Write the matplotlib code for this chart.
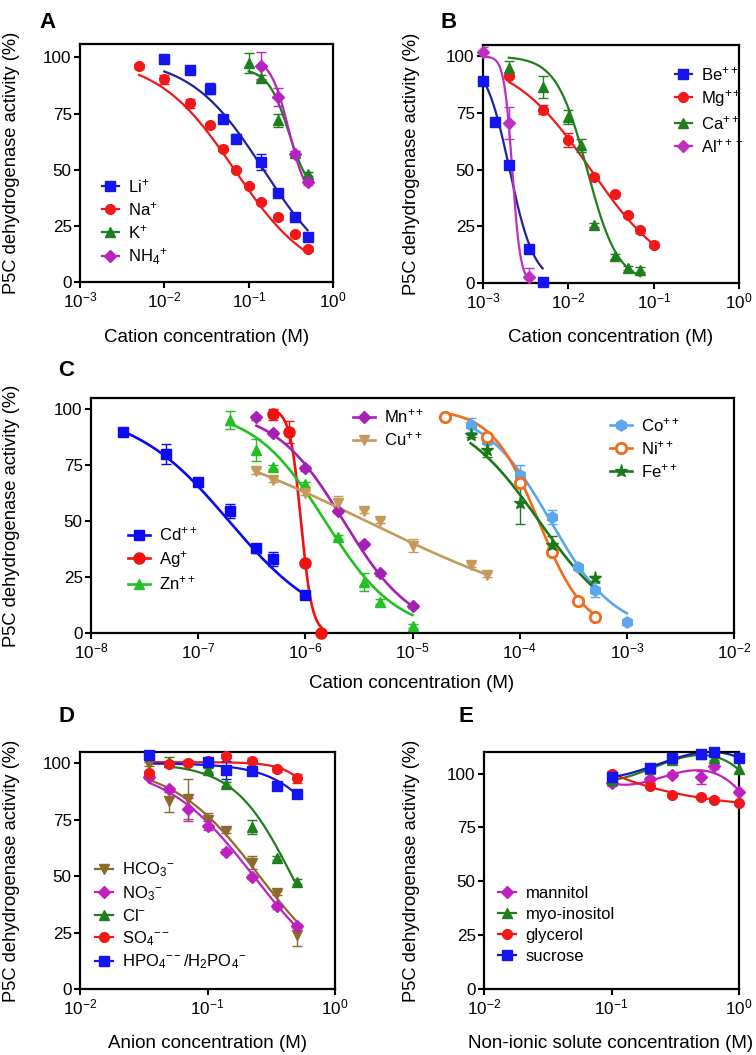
import numpy as np
import matplotlib
matplotlib.use('Agg')
import matplotlib.pyplot as plt
from matplotlib.lines import Line2D
from matplotlib.ticker import NullLocator, FixedLocator

plt.rcParams['font.family'] = ['Liberation Sans', 'DejaVu Sans']
plt.rcParams['mathtext.fontset'] = 'custom'
plt.rcParams['mathtext.rm'] = 'Liberation Sans'
plt.rcParams['mathtext.it'] = 'Liberation Sans:italic'
plt.rcParams['mathtext.bf'] = 'Liberation Sans:bold'

# ---------------- data ----------------
# Panel A: monovalent cations (M)
li_x = [0.01, 0.02, 0.035, 0.05, 0.07, 0.14, 0.225, 0.35, 0.5]
li_y = [99.2, 94.5, 86.1, 72.7, 63.9, 53.5, 39.7, 29.0, 19.9]
li_err = [1, 1, 2.5, 1, 2, 3.5, 1, 1, 1]
na_x = [0.005, 0.01, 0.02, 0.035, 0.05, 0.07, 0.1, 0.14, 0.225, 0.35, 0.5]
na_y = [96.0, 90.4, 79.7, 69.8, 59.4, 49.8, 42.7, 35.7, 28.8, 21.3, 14.8]
na_err = [1, 2, 2, 1, 1, 1, 1, 1, 1, 1, 1]
k_x = [0.1, 0.14, 0.225, 0.35, 0.5]
k_y = [97.5, 91.0, 72.0, 57.5, 48.0]
k_err = [4.5, 1, 3, 1, 1]
nh4_x = [0.14, 0.225, 0.35, 0.5]
nh4_y = [96.3, 82.4, 57.2, 44.4]
nh4_err = [6, 4, 1, 1]

# Panel B: di/trivalent cations
be_x = [0.001, 0.0014, 0.002, 0.0035, 0.005]
be_y = [89.0, 71.0, 52.0, 15.0, 0.5]
be_err = [1, 1, 1, 1, 1]
mg_x = [0.002, 0.005, 0.01, 0.02, 0.035, 0.05, 0.07, 0.1]
mg_y = [91.5, 76.5, 63.2, 46.9, 39.3, 30.1, 23.2, 16.9]
mg_err = [1, 2, 3, 1, 1, 1, 1, 1]
ca_x = [0.002, 0.005, 0.01, 0.014, 0.02, 0.035, 0.05, 0.07]
ca_y = [94.9, 86.5, 73.2, 60.7, 25.6, 11.8, 6.6, 5.9]
ca_err = [3, 5, 3, 3, 1, 1, 1, 1]
al_x = [0.001, 0.002, 0.0035]
al_y = [101.9, 70.6, 2.6]
al_err = [2, 7, 4]

# Panel C: heavy metal cations
cd_x = [2e-8, 5e-8, 1e-7, 2e-7, 3.5e-7, 5e-7, 1e-6]
cd_y = [90.0, 80.1, 67.6, 54.6, 37.8, 33.0, 16.8]
cd_err = [1, 4.5, 1, 3, 2, 3, 1]
ag_x = [5e-7, 7e-7, 1e-6, 1.4e-6]
ag_y = [97.8, 89.7, 31.5, 0.0]
ag_err = [2.5, 5, 1, 1]
zn_x = [2e-7, 3.5e-7, 5e-7, 1e-6, 2e-6, 3.5e-6, 5e-6, 1e-5]
zn_y = [95.2, 81.8, 74.1, 66.4, 43.0, 22.9, 14.0, 3.1]
zn_err = [4, 5, 1, 1, 1, 4, 1, 1]
mn_x = [3.5e-7, 5e-7, 1e-6, 2e-6, 3.5e-6, 5e-6, 1e-5]
mn_y = [96.3, 89.3, 73.6, 54.5, 39.7, 26.6, 12.1]
mn_err = [1, 1, 1, 1, 1, 1, 1]
cu_x = [3.5e-7, 5e-7, 1e-6, 2e-6, 3.5e-6, 5e-6, 1e-5, 3.5e-5, 5e-5]
cu_y = [72.2, 68.5, 62.5, 58.3, 54.5, 50.1, 39.0, 30.4, 25.9]
cu_err = [1, 1, 1, 3, 1, 1, 3, 1, 1]
co_x = [3.5e-5, 5e-5, 1e-4, 2e-4, 3.5e-4, 5e-4, 1e-3]
co_y = [92.9, 86.0, 70.5, 51.9, 29.6, 19.2, 5.0]
co_err = [3, 1, 4.5, 3, 1, 3, 1]
ni_x = [2e-5, 5e-5, 1e-4, 2e-4, 3.5e-4, 5e-4]
ni_y = [96.3, 87.6, 66.8, 36.3, 14.4, 7.3]
ni_err = [1, 1, 1, 2, 1, 1]
fe_x = [3.5e-5, 5e-5, 1e-4, 2e-4, 5e-4]
fe_y = [88.4, 81.7, 57.9, 39.3, 24.4]
fe_err = [1, 3, 9, 4, 1]

# Panel D: anions
hco3_x = [0.035, 0.05, 0.07, 0.1, 0.14, 0.225, 0.35, 0.5]
hco3_y = [99.7, 83.5, 84.1, 74.9, 70.1, 56.0, 42.5, 24.0]
hco3_err = [1, 5, 9, 3, 1, 3, 1, 5]
no3_x = [0.035, 0.05, 0.07, 0.1, 0.14, 0.225, 0.35, 0.5]
no3_y = [94.0, 88.5, 79.6, 72.3, 60.9, 49.6, 36.6, 28.0]
no3_err = [1, 1, 5, 2, 1, 1, 1, 1]
cl_x = [0.05, 0.1, 0.14, 0.225, 0.35, 0.5]
cl_y = [100.7, 97.1, 90.9, 71.7, 58.0, 47.6]
cl_err = [2, 1, 1, 3, 1, 1]
so4_x = [0.035, 0.05, 0.07, 0.1, 0.14, 0.225, 0.35, 0.5]
so4_y = [95.6, 99.6, 100.3, 101.2, 103.2, 101.2, 97.3, 93.4]
so4_err = [1, 1, 1, 1, 1, 1, 1, 2]
hpo4_x = [0.035, 0.1, 0.14, 0.225, 0.35, 0.5]
hpo4_y = [103.7, 100.7, 97.1, 96.6, 90.1, 86.3]
hpo4_err = [1, 1, 4, 1, 1, 1]

# Panel E: non-ionic solutes
solute_x = [0.1, 0.2, 0.3, 0.5, 0.64, 1.0]
mannitol_y = [95.4, 97.5, 99.5, 98.3, 103.7, 91.3]
mannitol_err = [1, 1, 1, 3, 1.5, 1]
myo_y = [97.0, 102.0, 106.2, 109.1, 107.3, 101.9]
myo_err = [1, 1, 1, 1, 1, 1]
glycerol_y = [100.0, 94.4, 90.2, 89.2, 87.9, 86.4]
glycerol_err = [1, 1, 1, 1, 1, 1]
sucrose_y = [98.5, 102.6, 107.3, 109.3, 110.1, 107.3]
sucrose_err = [1, 1, 1, 1, 1, 1]

# sigmoidal fit parameters (top, bottom, IC50, Hill slope)
li_fit = (100, 0, 0.15, 1.0)
na_fit = (100, 0, 0.068, 0.95)
k_fit = (95, 38, 0.30, 3.5)
nh4_fit = (100, 35, 0.30, 4.0)
be_fit = (100, 0, 0.00205, 3.0)
mg_fit = (100, 0, 0.0183, 0.933)
ca_fit = (100, 0, 0.0166, 2.41)
al_fit = (100, 0, 0.0022, 9.0)
cd_fit = (100, 0, 1.94e-7, 0.967)
ag_fit = (100, 0, 9.1e-7, 8.33)
zn_fit = (100, 0, 1.53e-6, 1.30)
mn_fit = (100, 0, 2.28e-6, 1.348)
cu_fit = (100, 0, 3.7e-6, 0.402)
co_fit = (100, 0, 1.94e-4, 1.426)
ni_fit = (100, 0, 1.5e-4, 2.0)
fe_fit = (100, 0, 1.52e-4, 1.166)
hco3_fit = (100, 0, 0.256, 1.27)
no3_fit = (100, 0, 0.23, 1.25)
cl_fit = (100, 0, 0.46, 1.9)
so4_fit = (100.5, 0, 1.14, 3.2)
hpo4_fit = (100, 0, 1.34, 1.86)

W, H = 756, 1055
fig = plt.figure(figsize=(W / 100, H / 100), dpi=100)


def make_ax(left, top, right, bottom, decades, ylim):
    ax = fig.add_axes([left / W, 1 - bottom / H, (right - left) / W, (bottom - top) / H])
    ax.set_xscale('log')
    ax.set_xlim(10.0 ** decades[0], 10.0 ** decades[1])
    ax.set_ylim(*ylim)
    # only the decades inside the view, so no hidden labels hang off the figure
    ax.xaxis.set_major_locator(FixedLocator(10.0 ** np.arange(decades[0], decades[1] + 1)))
    ax.xaxis.set_minor_locator(NullLocator())
    ax.yaxis.set_major_locator(FixedLocator([0, 25, 50, 75, 100]))
    for sp in ax.spines.values():
        sp.set_linewidth(1.6)
    ax.tick_params(direction='out', length=4, width=1.5, labelsize=12.3, pad=2)
    return ax


def hill(x, top, bottom, ic50, slope):
    return bottom + (top - bottom) / (1 + (x / ic50) ** slope)


def series(ax, x, y, err, fit, color, marker, label, ms=7, lw=1.6,
           line_color=None, mfc=None, mew=1.0):
    x = np.asarray(x)
    y = np.asarray(y)
    xs = np.geomspace(x.min(), x.max(), 300)
    if fit is None:
        coef = np.polyfit(np.log10(x), y, 3)
        ys = np.polyval(coef, np.log10(xs))
    else:
        ys = hill(xs, *fit)
    lc = line_color or color
    ax.plot(xs, ys, color=lc, lw=lw, zorder=2)
    ax.errorbar(x, y, yerr=err, fmt='none', ecolor=color, elinewidth=1.0,
                capsize=3.5, capthick=1.0, zorder=2)
    face = mfc if mfc is not None else color
    ax.plot(x, y, ls='none', marker=marker, ms=ms, color=color,
            mfc=face, mec=color, mew=mew, zorder=3, clip_on=False)
    return Line2D([], [], color=lc, lw=lw, marker=marker, ms=ms, mfc=face,
                  mec=color, mew=mew, label=label)


def legend(ax, handles, left, cy, hl=1.1, fs=12, spacing=0.3):
    ax.legend(handles=handles, loc='center left',
              bbox_to_anchor=(left / W, 1 - cy / H), bbox_transform=fig.transFigure,
              frameon=False, fontsize=fs, handlelength=hl, handletextpad=0.55,
              labelspacing=spacing, borderpad=0, borderaxespad=0)


def ylabel(x, top, bottom):
    fig.text(x / W, 1 - (top + bottom) / 2 / H, 'P5C dehydrogenase activity (%)',
             rotation=90, ha='center', va='center', fontsize=13.2)


def xlabel(x, y, s):
    fig.text(x / W, 1 - y / H, s, ha='center', va='center', fontsize=13.5)


def letter(x, y, s):
    fig.text(x / W, 1 - y / H, s, ha='center', va='center', fontsize=16, fontweight='bold')


blue, navy, red = '#1414f0', '#22229a', '#f01818'
green, magenta = '#1f7f1f', '#b822c0'

# ---------------- Panel A ----------------
axA = make_ax(80, 44, 333, 282, (-3, 0), (0, 106))
hA = [series(axA, li_x, li_y, li_err, li_fit, blue, 's', r'Li$^{+}$', ms=6.5, line_color=navy),
      series(axA, na_x, na_y, na_err, na_fit, red, 'o', r'Na$^{+}$'),
      series(axA, k_x, k_y, k_err, k_fit, green, '^', r'K$^{+}$'),
      series(axA, nh4_x, nh4_y, nh4_err, nh4_fit, magenta, 'D', r'NH$_4$$^{+}$', ms=6)]
legend(axA, hA, 102, 222, hl=1.0)
ylabel(12, 44, 282)
xlabel(207, 337, 'Cation concentration (M)')
letter(47, 23, 'A')

# ---------------- Panel B ----------------
axB = make_ax(483, 45, 739, 283, (-3, 0), (0, 105))
hB = [series(axB, be_x, be_y, be_err, be_fit, blue, 's', r'Be$^{++}$', ms=6.5, line_color=navy),
      series(axB, mg_x, mg_y, mg_err, mg_fit, red, 'o', r'Mg$^{++}$'),
      series(axB, ca_x, ca_y, ca_err, ca_fit, green, '^', r'Ca$^{++}$'),
      series(axB, al_x, al_y, al_err, al_fit, '#c030c0', 'D', r'Al$^{+++}$', ms=6)]
legend(axB, hB, 675, 110, hl=1.0)
ylabel(412, 45, 283)
xlabel(611, 337, 'Cation concentration (M)')
letter(449, 23, 'B')

# ---------------- Panel C ----------------
axC = make_ax(91, 398, 734, 633, (-8, -2), (0, 105))
hC1 = [series(axC, cd_x, cd_y, cd_err, cd_fit, '#0a0af5', 's', r'Cd$^{++}$', ms=7.5, lw=1.9),
       series(axC, ag_x, ag_y, ag_err, ag_fit, '#f21010', 'o', r'Ag$^{+}$', ms=8, lw=1.9),
       series(axC, zn_x, zn_y, zn_err, zn_fit, '#22c022', '^', r'Zn$^{++}$', ms=7.5, lw=1.9)]
hC2 = [series(axC, mn_x, mn_y, mn_err, mn_fit, '#a420b4', 'D', r'Mn$^{++}$', ms=6.5, lw=1.9),
       series(axC, cu_x, cu_y, cu_err, cu_fit, '#c49a5a', 'v', r'Cu$^{++}$', ms=7.5, lw=1.9)]
hC3 = [series(axC, co_x, co_y, co_err, co_fit, '#5ca6ee', 'h', r'Co$^{++}$', ms=8, lw=1.9),
       series(axC, ni_x, ni_y, ni_err, ni_fit, '#f26b1d', 'o', r'Ni$^{++}$', ms=7.5, lw=1.9,
              mfc='white', mew=2.0),
       series(axC, fe_x, fe_y, fe_err, fe_fit, '#1a7a1a', '*', r'Fe$^{++}$', ms=9.5, lw=1.9)]
legend(axC, hC1, 128, 559, hl=1.3)
axC.add_artist(axC.get_legend())
legend(axC, hC2, 353, 428, hl=1.3)
axC.add_artist(axC.get_legend())
legend(axC, hC3, 610, 448, hl=1.3)
ylabel(12, 398, 633)
xlabel(412, 683, 'Cation concentration (M)')
letter(66, 371, 'C')

# ---------------- Panel D ----------------
axD = make_ax(80, 752, 335, 989, (-2, 0), (0, 105))
hD = [series(axD, hco3_x, hco3_y, hco3_err, hco3_fit, '#8c6a2c', 'v', r'HCO$_3$$^{-}$'),
      series(axD, no3_x, no3_y, no3_err, no3_fit, '#c020c0', 'D', r'NO$_3$$^{-}$', ms=6),
      series(axD, cl_x, cl_y, cl_err, cl_fit, green, '^', r'Cl$^{-}$'),
      series(axD, so4_x, so4_y, so4_err, so4_fit, red, 'o', r'SO$_4$$^{--}$'),
      series(axD, hpo4_x, hpo4_y, hpo4_err, hpo4_fit, blue, 's', r'HPO$_4$$^{--}$/H$_2$PO$_4$$^{-}$',
             ms=6.5)]
legend(axD, hD, 95, 916, hl=1.1, spacing=0.3)
ylabel(12, 752, 989)
xlabel(207, 1043, 'Anion concentration (M)')
letter(66, 717, 'D')

# ---------------- Panel E ----------------
axE = make_ax(484, 752, 739, 989, (-2, 0), (0, 110))
hE = [series(axE, solute_x, mannitol_y, mannitol_err, None, '#c020c0', 'D', 'mannitol', ms=6),
      series(axE, solute_x, myo_y, myo_err, None, green, '^', 'myo-inositol'),
      series(axE, solute_x, glycerol_y, glycerol_err, None, red, 'o', 'glycerol'),
      series(axE, solute_x, sucrose_y, sucrose_err, None, blue, 's', 'sucrose', ms=6.5,
             line_color='#1a1ab0')]
legend(axE, hE, 498, 925, hl=1.1, spacing=0.35)
ylabel(412, 752, 989)
xlabel(611, 1043, 'Non-ionic solute concentration (M)')
letter(466, 717, 'E')

fig.savefig('out.png', dpi=100)
